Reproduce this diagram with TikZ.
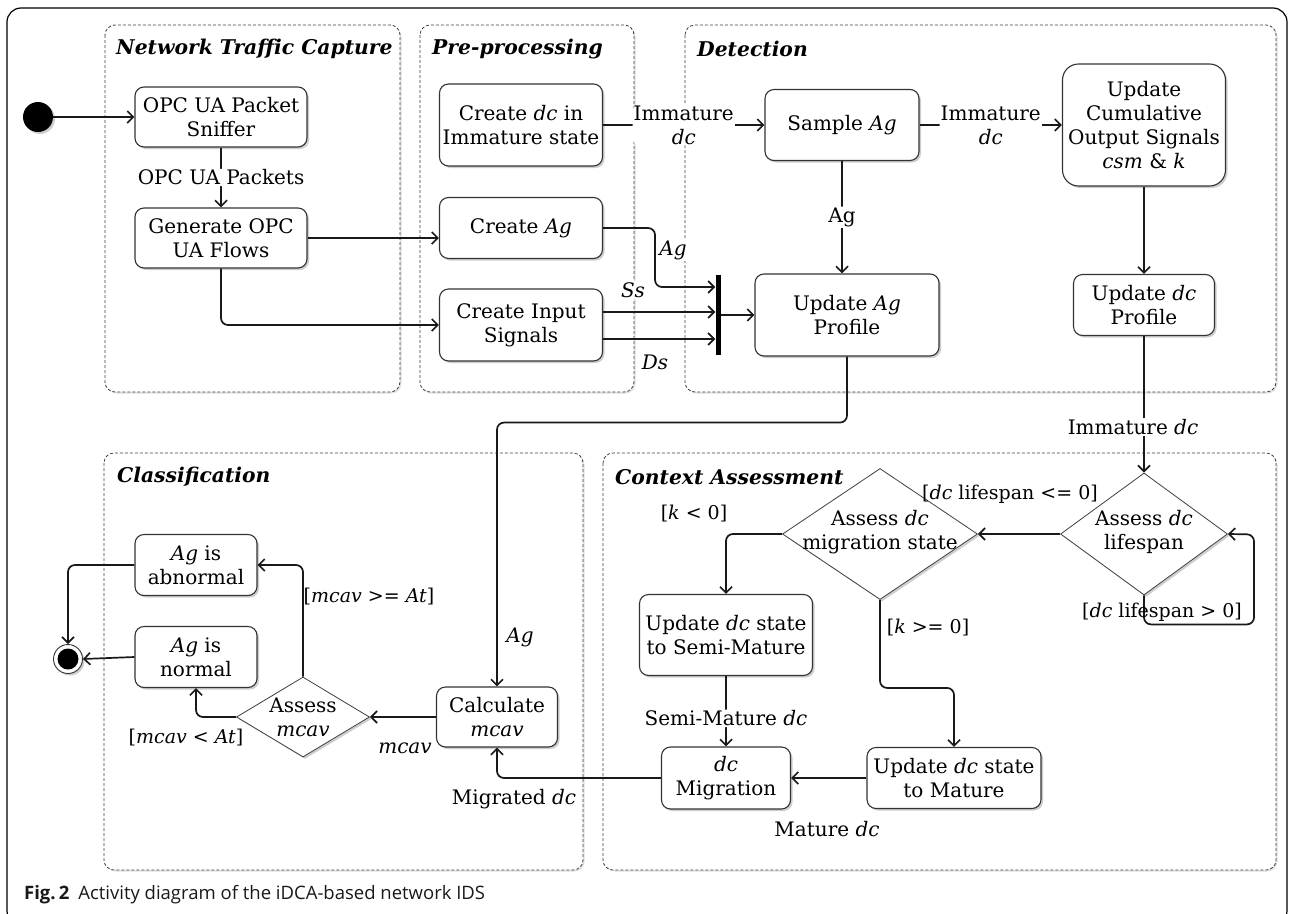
\documentclass[tikz,border=0pt]{standalone}
\usepackage{fontspec}
\setmainfont{DejaVu Serif}
\newfontfamily\capfont{Open Sans}
\usetikzlibrary{shapes.geometric,arrows.meta,shadows,calc}

\tikzset{
  txt/.style={font=\fontsize{20}{24}\selectfont},
  softshadow/.style={drop shadow={shadow xshift=2pt, shadow yshift=-2pt, opacity=0.35, fill=black!55}},
  lane/.style={draw=black!75, line width=0.8pt, dash pattern=on 3pt off 2pt,
    rounded corners=10pt, fill=white,
    drop shadow={shadow xshift=1.5pt, shadow yshift=-1.5pt, opacity=0.25, fill=black!50}},
  lanetitle/.style={font=\fontsize{20.3}{24}\selectfont\bfseries\itshape, anchor=west, inner sep=0pt},
  act/.style={txt, draw=black!80, line width=1.1pt, rounded corners=9pt, fill=white,
    align=center, inner sep=0pt, softshadow},
  dec/.style={diamond, draw=black!75, line width=0.8pt, fill=white, inner sep=0pt, softshadow},
  dtext/.style={txt, align=center, inner sep=0pt},
  conn/.style={draw=black!90, line width=1.7pt, rounded corners=7pt,
    -{Straight Barb[length=6pt,width=12pt]}},
  plain/.style={draw=black!90, line width=1.7pt, rounded corners=7pt},
  flow/.style={txt, fill=white, align=center, inner sep=1pt},
  guard/.style={font=\fontsize{19}{23}\selectfont, align=center, inner sep=0pt},
}

\begin{document}
\begin{tikzpicture}[x=1pt, y=-1pt]
\useasboundingbox (0,0) rectangle (1290,913);

% figure frame
\draw[black, line width=1.2pt, rounded corners=14pt] (7,8) rectangle (1287,925);

% swimlanes
\draw[lane] (105,25) rectangle (400,392);
\draw[lane] (420,25) rectangle (634,392);
\draw[lane] (685,25) rectangle (1276,392);
\draw[lane] (104,453) rectangle (583,870);
\draw[lane] (603,453) rectangle (1276,870);

\node[lanetitle] (tNTC) at (116,49) {Network Traffic Capture};
\node[lanetitle] (tPre) at (432,49) {Pre-processing};
\node[lanetitle] (tDet) at (697,49) {Detection};
\node[lanetitle] (tCls) at (117,477) {Classification};
\node[lanetitle] (tCtx) at (615,477) {Context Assessment};

% initial and final nodes
\node[circle, fill=black, minimum size=30pt, inner sep=0pt, softshadow] (start) at (38,117) {};
\node[circle, draw=black!80, line width=0.9pt, fill=white, minimum size=29pt, inner sep=0pt, softshadow] (fin) at (68,659) {};
\node[circle, fill=black, minimum size=21pt, inner sep=0pt] (finin) at (fin) {};

% network traffic capture
\node[act, minimum width=172pt, minimum height=60pt] (sniff) at (221,117) {OPC UA Packet\\Sniffer};
\node[act, minimum width=172pt, minimum height=60pt] (gen) at (221,238) {Generate OPC\\UA Flows};

% pre-processing
\node[act, minimum width=163pt, minimum height=82pt] (crdc) at (521,125) {Create \textit{dc} in\\Immature state};
\node[act, minimum width=163pt, minimum height=61pt] (crag) at (521,228) {Create \textit{Ag}};
\node[act, minimum width=163pt, minimum height=72pt] (crsig) at (521,325) {Create Input\\Signals};

% detection
\node[act, minimum width=154pt, minimum height=71pt] (samp) at (842,125) {Sample \textit{Ag}};
\node[act, minimum width=184pt, minimum height=82pt] (upag) at (847,315) {Update \textit{Ag}\\Profile};
\node[act, minimum width=163pt, minimum height=122pt, rounded corners=16pt] (cum) at (1144,125) {Update\\Cumulative\\Output Signals\\\textit{csm} \& \textit{k}};
\node[act, minimum width=141pt, minimum height=61pt] (updc) at (1144,305) {Update \textit{dc}\\Profile};
\node[fill=black, minimum width=5pt, minimum height=80pt, inner sep=0pt] (join) at (718,315) {};

% classification
\node[act, minimum width=122pt, minimum height=61pt] (abn) at (196,565) {\textit{Ag} is\\abnormal};
\node[act, minimum width=122pt, minimum height=61pt] (norm) at (196,657) {\textit{Ag} is\\normal};
\node[dec, minimum width=133pt, minimum height=80pt] (dm) at (303,717) {};
\node[dtext] (dmt) at (dm) {Assess\\\textit{mcav}};
\node[act, minimum width=121pt, minimum height=60pt] (calc) at (497,717) {Calculate\\\textit{mcav}};

% context assessment
\node[dec, minimum width=167pt, minimum height=122pt] (life) at (1144,534) {};
\node[dtext] (lifet) at (1144,532) {Assess \textit{dc}\\lifespan};
\node[dec, minimum width=195pt, minimum height=131pt] (mig) at (880,534) {};
\node[dtext] (migt) at (880,532) {Assess \textit{dc}\\migration state};
\node[act, minimum width=173pt, minimum height=81pt] (semi) at (726,635) {Update \textit{dc} state\\to Semi-Mature};
\node[act, minimum width=129pt, minimum height=62pt] (migr) at (726,778) {\textit{dc}\\Migration};
\node[act, minimum width=174pt, minimum height=61pt] (mat) at (954,778) {Update \textit{dc} state\\to Mature};

% flows: capture and pre-processing
\draw[conn] (start) -- (sniff);
\draw[conn] (sniff) -- node[flow] (lpk) {OPC UA Packets} (gen);
\draw[conn] (gen.east) -- (gen.east -| crag.west);
\draw[conn] (gen.south) |- (crsig.west);
\draw[conn] (crdc) -- node[flow] (limm1) {Immature\\\textit{dc}} (samp);
\draw[conn] (crag.east) -- ++(52,0) |- ($(join.west)+(0,-28)$);
\node[flow] (lag1) at (673,250) {\textit{Ag}};
\draw[conn] ($(crsig.east)+(0,-13)$) -- ($(join.west)+(0,-3)$);
\draw[conn] ($(crsig.east)+(0,14)$) -- ($(join.west)+(0,24)$);
\node[flow] (lss) at (633,290) {\textit{Ss}};
\node[flow] (lds) at (655,362) {\textit{Ds}};
\draw[conn] (join.east) -- (upag.west);

% flows: detection
\draw[conn] (samp.south) -- node[flow] (lag2) {Ag} (samp.south |- upag.north);
\draw[conn] (samp) -- node[flow] (limm2) {Immature\\\textit{dc}} (cum);
\draw[conn] (cum) -- (updc);
\node[flow] (limm3) at (1133,427) {Immature \textit{dc}};
\draw[plain] (updc.south) -- (updc.south |- limm3.north);
\draw[conn] (updc.south |- limm3.south) -- (life.north);
\draw[conn] (upag.south) -- ++(0,66) -| (calc.north);
\node[flow] (lag3) at (520,637) {\textit{Ag}};

% flows: context assessment
\draw[conn] (life.west) -- (mig.east);
\node[guard] (gle) at (1010,494) {[\textit{dc} lifespan <= 0]};
\draw[conn] (life.south) -- ++(0,29) -- ++(110,0) -- ++(0,-90) -- (life.east);
\node[guard] (ggt) at (1162,612) {[\textit{dc} lifespan > 0]};
\draw[conn] (mig.west) -| (semi.north);
\node[guard] (gkl) at (694,514) {[\textit{k} < 0]};
\draw[conn] (mig.south) -- ++(0,88) -| (mat.north);
\node[guard] (gkg) at (928,628) {[\textit{k} >= 0]};
\draw[conn] (semi) -- node[flow, pos=0.6] (lsemi) {Semi-Mature \textit{dc}} (migr);
\draw[conn] (mat) -- (migr);
\node[flow] (lmat) at (827,829) {Mature \textit{dc}};
\draw[conn] (migr.west) -| (calc.south);
\node[flow] (lmigd) at (514,799) {Migrated \textit{dc}};

% flows: classification
\draw[conn] (calc) -- (dm);
\node[flow] (lmcav) at (405,748) {\textit{mcav}};
\draw[conn] (dm.north) |- (abn.east);
\node[guard] (gab) at (369,597) {[\textit{mcav} >= \textit{At}]};
\draw[conn] (dm.west) -| (norm.south);
\node[guard] (gno) at (186,738) {[\textit{mcav} < \textit{At}]};
\draw[conn] (abn.west) -| (fin.north);
\draw[conn] (norm.west) -- (fin.east);

% caption
\node[anchor=west, inner sep=0pt, text=black!90, font=\capfont\fontsize{18.5}{21}\selectfont] (cap) at (24,895)
  {\textbf{Fig.\,2}\hspace{9pt}Activity diagram of the iDCA-based network IDS};
\end{tikzpicture}
\end{document}
